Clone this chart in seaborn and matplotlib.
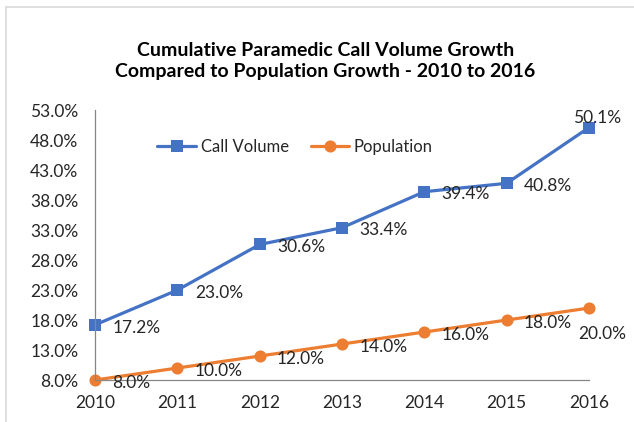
import numpy as np
import pandas as pd
import matplotlib
matplotlib.use("Agg")
import matplotlib.pyplot as plt
from matplotlib.lines import Line2D
import seaborn as sns

years = [2010, 2011, 2012, 2013, 2014, 2015, 2016]
call_volume = [17.2, 23.0, 30.6, 33.4, 39.4, 40.8, 50.1]
population = [8.0, 10.0, 12.0, 14.0, 16.0, 18.0, 20.0]
y_ticks = [8, 13, 18, 23, 28, 33, 38, 43, 48, 53]

# label offsets in points (dx, dy, ha)
call_offsets = [(12.5, -2, 'left')] * 6 + [(6, 7, 'center')]
pop_offsets = [(12.5, -2, 'left')] * 6 + [(-8, -19, 'left')]

sns.set_style("white")
plt.rcParams['font.family'] = ['Lato', 'DejaVu Sans']

df = pd.DataFrame({
    'Year': years * 2,
    'Value': call_volume + population,
    'Series': ['Call Volume'] * len(years) + ['Population'] * len(years),
})

palette = {'Call Volume': '#4472C4', 'Population': '#ED7D31'}
markers = {'Call Volume': 's', 'Population': 'o'}
msize = {'Call Volume': 8, 'Population': 8.7}

fig = plt.figure(figsize=(6.34, 4.22), dpi=100)
ax = fig.add_axes([0.150, 0.0995, 0.779, 0.6395])

sns.lineplot(data=df, x='Year', y='Value', hue='Series', style='Series',
             palette=palette, markers=markers, dashes=False, markersize=8,
             markeredgewidth=0, linewidth=2.3, ax=ax, legend=False)
for line, s in zip(ax.lines, palette):
    line.set_markersize(msize[s])
    line.set_clip_on(False)

ax.set_xlim(2010, 2016)
ax.set_ylim(8, 53)
ax.set_yticks(y_ticks)
ax.set_yticklabels([f'{t:.1f}%' for t in y_ticks])
ax.set_xticks(years)
ax.set_xlabel('')
ax.set_ylabel('')
ax.tick_params(axis='y', length=5, width=0.8, color='#868686', labelsize=12.5, pad=7)
ax.tick_params(axis='x', length=0, labelsize=12.5, pad=11)
for lab in ax.get_xticklabels() + ax.get_yticklabels():
    lab.set_color('#262626')

for side in ['top', 'right']:
    ax.spines[side].set_visible(False)
for side in ['left', 'bottom']:
    ax.spines[side].set_color('#868686')
    ax.spines[side].set_linewidth(0.9)

for x, y, (dx, dy, ha) in zip(years, call_volume, call_offsets):
    ax.annotate(f'{y:.1f}%', (x, y), xytext=(dx, dy), textcoords='offset points',
                ha=ha, va='center', fontsize=12.5, color='#262626')
for x, y, (dx, dy, ha) in zip(years, population, pop_offsets):
    ax.annotate(f'{y:.1f}%', (x, y), xytext=(dx, dy), textcoords='offset points',
                ha=ha, va='center', fontsize=12.5, color='#262626')

handles = [Line2D([], [], color=palette[s], marker=markers[s], markersize=msize[s],
                  markeredgewidth=0, linewidth=2.3) for s in palette]
ax.legend(handles, list(palette.keys()), loc='center', bbox_to_anchor=(0.405, 0.863),
          ncol=2, frameon=False, fontsize=12, handlelength=2.3, handletextpad=0.3,
          columnspacing=1.3)

fig.text(0.513, 0.855, 'Cumulative Paramedic Call Volume Growth\nCompared to Population Growth - 2010 to 2016',
         ha='center', va='center', fontsize=14, fontweight='bold', color='#000000',
         linespacing=1.25)

# light chart border (top and left edges)
fig.add_artist(Line2D([6 / 634, 1], [1 - 6.5 / 422, 1 - 6.5 / 422], color='#d9d9d9', lw=1.2))
fig.add_artist(Line2D([6 / 634, 6 / 634], [0, 1 - 6.5 / 422], color='#d9d9d9', lw=1.2))

fig.savefig('out.png', dpi=100)
